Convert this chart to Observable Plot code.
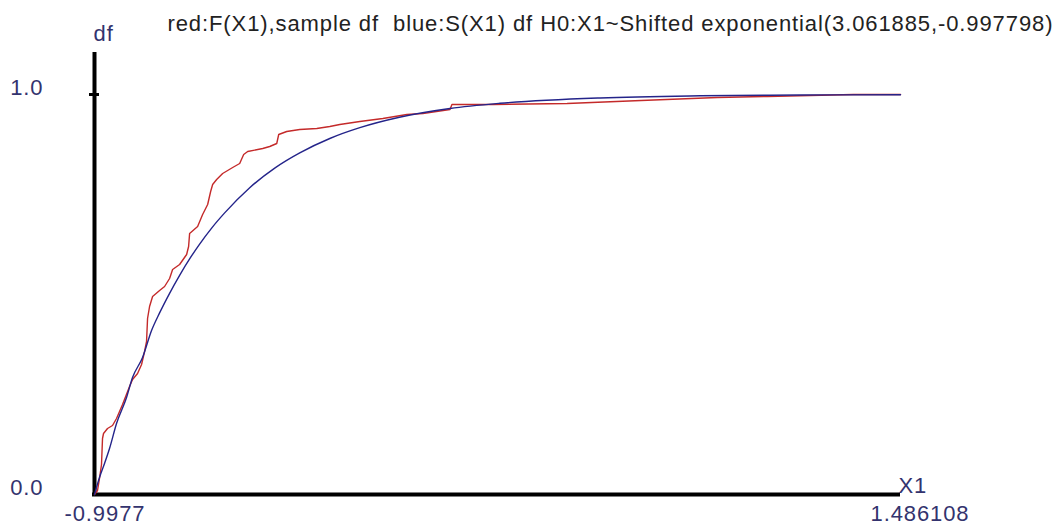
<!DOCTYPE html>
<html><head><meta charset="utf-8">
<script src="https://cdn.jsdelivr.net/npm/d3@7"></script>
<script src="https://cdn.jsdelivr.net/npm/@observablehq/plot@0.6"></script>
<style>html,body{margin:0;padding:0;background:#fff;overflow:hidden;} svg{display:block}</style>
</head><body><div id="chart"></div>
<script>
const title = "red:F(X1),sample df  blue:S(X1) df H0:X1~Shifted exponential(3.061885,-0.997798)";
const yLabel = "df";
const xLabel = "X1";
const xDomain = [-0.9977, 1.486108];
const xTickLabels = ["-0.9977", "1.486108"];
const yTicks = [0, 1];
const yTickLabels = ["0.0", "1.0"];

// red: sample distribution function F(X1)
const sampleX = [-0.9977, -0.9884, -0.9823, -0.9761, -0.9730, -0.9699, -0.9576, -0.9422, -0.9298, -0.9113,
  -0.8897, -0.8805, -0.8650, -0.8527, -0.8434, -0.8373, -0.8342, -0.8280, -0.8187, -0.7971,
  -0.7817, -0.7663, -0.7570, -0.7354, -0.7138, -0.7077, -0.7046, -0.6799, -0.6645, -0.6490,
  -0.6398, -0.6336, -0.6213, -0.6028, -0.5719, -0.5503, -0.5380, -0.5256, -0.4793, -0.4577,
  -0.4361, -0.4300, -0.4053, -0.3652, -0.3127, -0.2726, -0.2418, -0.1800, -0.1091, -0.0350,
  0.0143, 0.0977, 0.1038, 0.2303, 0.4587, 0.6868, 0.9215, 1.0758, 1.3411, 1.486108];
const sampleF = [0, 0.01, 0.04, 0.075, 0.14, 0.1525, 0.165, 0.1725, 0.19, 0.225,
  0.27, 0.2875, 0.3025, 0.325, 0.3575, 0.3825, 0.44, 0.47, 0.495, 0.51,
  0.52, 0.54, 0.5625, 0.575, 0.6, 0.62, 0.6525, 0.67, 0.70, 0.725,
  0.7575, 0.775, 0.7875, 0.8025, 0.8175, 0.8275, 0.85, 0.8575, 0.865, 0.87,
  0.8775, 0.90, 0.9075, 0.9125, 0.915, 0.92, 0.925, 0.9325, 0.94, 0.95,
  0.9525, 0.9625, 0.975, 0.975, 0.9775, 0.985, 0.9925, 0.995, 1.0, 1.0];

// blue: fitted shifted exponential distribution function S(X1)
const fittedX = [-0.9977, -0.9823, -0.9668, -0.9514, -0.9298, -0.8990, -0.8805, -0.8496, -0.8219, -0.7971,
  -0.7663, -0.7354, -0.7046, -0.6737, -0.6367, -0.5966, -0.5194, -0.4423, -0.3652, -0.2726,
  -0.1800, -0.0581, 0.0977, 0.2519, 0.5605, 0.8690, 1.1776, 1.4861];
const fittedS = [0, 0.0425, 0.0775, 0.115, 0.1775, 0.2425, 0.2925, 0.3425, 0.41, 0.454,
  0.503, 0.548, 0.589, 0.626, 0.666, 0.704, 0.767, 0.816, 0.854, 0.890,
  0.917, 0.943, 0.965, 0.978, 0.9914, 0.9967, 0.9987, 0.9995];

const sample = sampleX.map((x, i) => ({x, y: sampleF[i]}));
const fitted = fittedX.map((x, i) => ({x, y: fittedS[i]}));

const labelColor = "#33336e";
const fs = 22;

const chart = Plot.plot({
  width: 1060,
  height: 527,
  marginLeft: 94,
  marginRight: 160,
  marginTop: 94,
  marginBottom: 33,
  x: {domain: xDomain, axis: null},
  y: {domain: [0, 1], axis: null},
  style: {fontFamily: "'Liberation Sans', Arial, sans-serif", letterSpacing: "0.9px", background: "#fff", overflow: "hidden"},
  marks: [
    // axes lines
    Plot.ruleX([xDomain[0]], {y1: 1, y2: 0, insetTop: -42, insetBottom: -2, stroke: "#000", strokeWidth: 4}),
    Plot.ruleY([0], {x1: xDomain[0], x2: xDomain[1], insetLeft: -2, stroke: "#000", strokeWidth: 4}),
    Plot.ruleY([1], {x1: xDomain[0], x2: xDomain[0], insetLeft: -5, insetRight: -5, stroke: "#000", strokeWidth: 3}),
    // curves
    Plot.line(sample, {x: "x", y: "y", stroke: "#c42a2a", strokeWidth: 1.4}),
    Plot.line(fitted, {x: "x", y: "y", stroke: "#24248a", strokeWidth: 1.4, curve: "monotone-x"}),
    // y tick labels
    Plot.text(yTicks, {y: d => d, text: (d, i) => yTickLabels[i], frameAnchor: "left", textAnchor: "end", lineAnchor: "bottom", dx: -51, dy: 0, fontSize: fs, fill: labelColor}),
    // x tick labels
    Plot.text(xDomain, {x: d => d, text: (d, i) => xTickLabels[i], frameAnchor: "bottom", textAnchor: "start", lineAnchor: "bottom", dx: -30, dy: 26, fontSize: fs, fill: labelColor}),
    // axis titles
    Plot.text([yLabel], {frameAnchor: "top-left", text: d => d, textAnchor: "start", lineAnchor: "bottom", dx: -1, dy: -54, fontSize: fs, fill: labelColor}),
    Plot.text([xLabel], {frameAnchor: "bottom-right", text: d => d, textAnchor: "start", lineAnchor: "bottom", dx: -2, dy: -2, fontSize: fs, fill: labelColor}),
    // title
    Plot.text([title], {frameAnchor: "top-left", text: d => d, textAnchor: "start", lineAnchor: "bottom", dx: 73, dy: -64, fontSize: 22, fill: "#222", style: "letter-spacing:0.85px"})
  ]
});
document.getElementById("chart").appendChild(chart);
</script>
</body></html>
